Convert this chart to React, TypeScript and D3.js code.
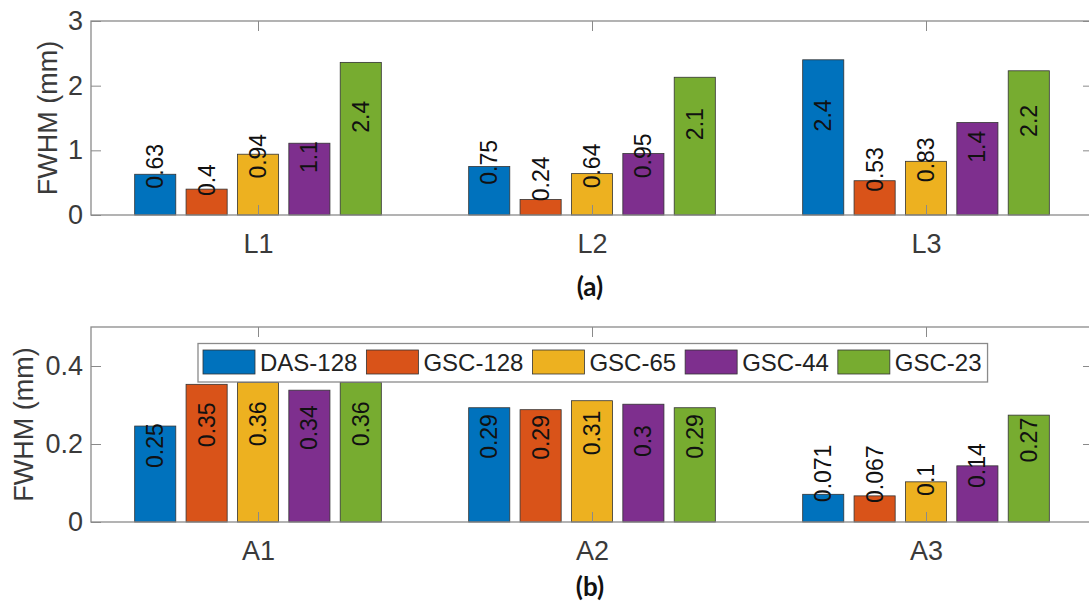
import { useEffect, useRef } from "react";
import * as d3 from "d3";

const series = ["DAS-128", "GSC-128", "GSC-65", "GSC-44", "GSC-23"];
const seriesColors = ["#0072BD", "#D95319", "#EDB120", "#7E2F8E", "#77AC30"];

// panel (a)
const groupsA = ["L1", "L2", "L3"];
const valuesA = [
  [0.63, 0.4, 0.94, 1.11, 2.36],
  [0.75, 0.24, 0.64, 0.95, 2.13],
  [2.4, 0.53, 0.83, 1.43, 2.23],
];
const yTicksA = [0, 1, 2, 3];

// panel (b)
const groupsB = ["A1", "A2", "A3"];
const valuesB = [
  [0.246, 0.353, 0.358, 0.338, 0.358],
  [0.293, 0.288, 0.311, 0.302, 0.293],
  [0.071, 0.067, 0.103, 0.144, 0.274],
];
const yTicksB = [0, 0.2, 0.4];

const FONT = "'Liberation Sans', Arial, Helvetica, sans-serif";
const AXIS = "#8a8a8a";
const TEXT = "#3a3a3a";

export default function App() {
  const svgRef = useRef<SVGSVGElement>(null);

  useEffect(() => {
    if (!svgRef.current) return;
    const svg = d3.select(svgRef.current);
    svg.selectAll("*").remove();

    const x = d3.scaleLinear().domain([0.5, 3.5]).range([91, 1093]);
    const n = series.length;
    const groupWidth = Math.min(0.8, n / (n + 1.5));
    const pitch = groupWidth / n;
    const barW = pitch * 0.8;
    const fmt = d3.format(".2~g");

    function drawPanel(
      groups: string[],
      values: number[][],
      yMax: number,
      ticks: number[],
      yRange: [number, number],
      ylabelX: number,
      caption: string,
      captionY: number
    ) {
      const y = d3.scaleLinear().domain([0, yMax]).range(yRange);
      const g = svg.append("g");

      // bars
      values.forEach((row, gi) => {
        row.forEach((v, si) => {
          const cx = gi + 1 + (si - (n - 1) / 2) * pitch;
          g.append("rect")
            .attr("x", x(cx - barW / 2))
            .attr("y", y(v))
            .attr("width", x(cx + barW / 2) - x(cx - barW / 2))
            .attr("height", y(0) - y(v))
            .attr("fill", seriesColors[si])
            .attr("stroke", "#333")
            .attr("stroke-width", 0.8);
        });
      });

      // axes box
      g.append("rect")
        .attr("x", x(0.5))
        .attr("y", y(yMax))
        .attr("width", x(3.5) - x(0.5))
        .attr("height", y(0) - y(yMax))
        .attr("fill", "none")
        .attr("stroke", AXIS)
        .attr("stroke-width", 1.3);

      const catTicks = groups.map((_, i) => i + 1);

      g.append("g")
        .attr("transform", `translate(0,${y(0)})`)
        .call(
          d3
            .axisBottom(x)
            .tickValues(catTicks)
            .tickFormat((d) => groups[(d as number) - 1])
            .tickSizeInner(-10)
            .tickSizeOuter(0)
            .tickPadding(19)
        )
        .attr("color", AXIS)
        .attr("font-family", FONT)
        .attr("font-size", 27)
        .call((a) => a.select(".domain").remove())
        .selectAll("text")
        .attr("fill", TEXT);

      g.append("g")
        .attr("transform", `translate(0,${y(yMax)})`)
        .call(
          d3
            .axisTop(x)
            .tickValues(catTicks)
            .tickFormat(() => "")
            .tickSizeInner(-10)
            .tickSizeOuter(0)
        )
        .attr("color", AXIS)
        .call((a) => a.select(".domain").remove());

      g.append("g")
        .attr("transform", `translate(${x(0.5)},0)`)
        .call(
          d3
            .axisLeft(y)
            .tickValues(ticks)
            .tickFormat((d) => d3.format("~g")(d as number))
            .tickSizeInner(-10)
            .tickSizeOuter(0)
            .tickPadding(8)
        )
        .attr("color", AXIS)
        .attr("font-family", FONT)
        .attr("font-size", 27)
        .call((a) => a.select(".domain").remove())
        .selectAll("text")
        .attr("fill", TEXT);

      g.append("g")
        .attr("transform", `translate(${x(3.5)},0)`)
        .call(
          d3
            .axisRight(y)
            .tickValues(ticks.filter((t) => t > 0))
            .tickFormat(() => "")
            .tickSizeInner(-10)
            .tickSizeOuter(0)
        )
        .attr("color", AXIS)
        .call((a) => a.select(".domain").remove());

      // y label
      const yMid = (yRange[0] + yRange[1]) / 2;
      g.append("text")
        .attr("transform", `translate(${ylabelX},${yMid}) rotate(-90)`)
        .attr("text-anchor", "middle")
        .attr("font-family", FONT)
        .attr("font-size", 27)
        .attr("fill", TEXT)
        .text("FWHM (mm)");

      // value labels
      values.forEach((row, gi) => {
        row.forEach((v, si) => {
          const cx = gi + 1 + (si - (n - 1) / 2) * pitch;
          g.append("text")
            .attr(
              "transform",
              `translate(${x(cx)},${y(v / 2) - 6}) rotate(-90)`
            )
            .attr("text-anchor", "start")
            .attr("dominant-baseline", "central")
            .attr("font-family", FONT)
            .attr("font-size", 23)
            .attr("fill", "#111")
            .text(fmt(v));
        });
      });

      // caption
      svg
        .append("text")
        .attr("x", x(2) - 2)
        .attr("y", captionY)
        .attr("text-anchor", "middle")
        .attr("font-family", "Lato, 'Open Sans', sans-serif")
        .attr("font-weight", "bold")
        .attr("font-size", 26)
        .attr("fill", "#111")
        .text(caption);
    }

    drawPanel(groupsA, valuesA, 3, yTicksA, [215, 21], 57, "(a)", 296);
    drawPanel(groupsB, valuesB, 0.5, yTicksB, [522, 327], 33, "(b)", 596);

    // legend
    const legend = svg.append("g");
    const box = legend
      .append("rect")
      .attr("x", 198)
      .attr("y", 343.5)
      .attr("height", 38.5)
      .attr("fill", "#fff")
      .attr("stroke", AXIS)
      .attr("stroke-width", 1.3);

    let cursor = 203;
    series.forEach((name, i) => {
      legend
        .append("rect")
        .attr("x", cursor)
        .attr("y", 350)
        .attr("width", 52)
        .attr("height", 24)
        .attr("fill", seriesColors[i])
        .attr("stroke", "#333")
        .attr("stroke-width", 0.8);
      const t = legend
        .append("text")
        .attr("x", cursor + 57)
        .attr("y", 371)
        .attr("font-family", FONT)
        .attr("font-size", 24)
        .attr("fill", "#222")
        .text(name);
      const w = (t.node() as SVGTextElement).getComputedTextLength();
      cursor += 57 + w + (i < n - 1 ? 9 : 6);
    });
    box.attr("width", cursor - 198);
  }, []);

  return (
    <svg
      ref={svgRef}
      width={1089}
      height={601}
      style={{ position: "absolute", left: 0, top: 0, background: "#fff" }}
    />
  );
}
